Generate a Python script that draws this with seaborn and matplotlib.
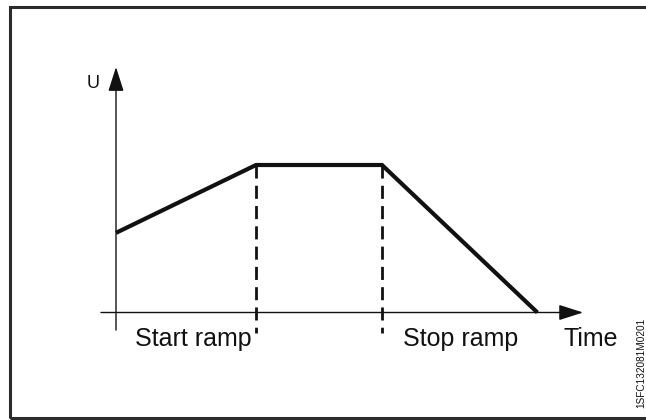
import matplotlib
matplotlib.use("Agg")
from matplotlib import pyplot as plt
from matplotlib.patches import Rectangle
import pandas as pd
import seaborn as sns

# ramp profile: voltage (in % of full) against time (arbitrary units)
time = [0.0, 10.0, 19.0, 30.1]
voltage = [54, 100, 100, 0]

# where the dashed markers sit (end of start ramp, start of stop ramp)
ramp_marks = [10.0, 19.0]

axis_labels = ["Time", "U"]
section_labels = ["Start ramp", "Stop ramp"]
drawing_id = "1SFC132081M0201"

sns.set_style("white")
plt.rcParams["font.family"] = ["Liberation Sans", "DejaVu Sans"]

W, H, DPI = 646, 420, 100
fig = plt.figure(figsize=(W / DPI, H / DPI), dpi=DPI)
ax = fig.add_axes([0, 0, 1, 1])
ax.set_axis_off()

# scale: 14 px per time unit, 1.475 px per % of U, origin at px (116, 312.5)
px_t, px_u = 14.0, 1.475
ox, oy = 116.0, 312.5
ax.set_xlim(-ox / px_t, (W - ox) / px_t)
ax.set_ylim(-(H - oy) / px_u, oy / px_u)

ink = "#111111"

# axes with arrow heads
arrow = dict(arrowstyle="-|>,head_length=1.5,head_width=0.48", color=ink,
             lw=1.0, shrinkA=0, shrinkB=0, mutation_scale=10)
ax.annotate("", xy=(33.36, 0), xytext=(-1.07, 0), arrowprops=arrow)
ax.annotate("", xy=(0, 166.4), xytext=(0, -11.9), arrowprops=arrow)

# dashed markers down from the plateau corners
for t in ramp_marks:
    ax.plot([t, t], [100, -14.2], color=ink, lw=2.0,
            linestyle=(0, (4.7, 2.6)), zorder=2)

df = pd.DataFrame({"time": time, "voltage": voltage})
sns.lineplot(data=df, x="time", y="voltage", ax=ax, color=ink, linewidth=3.0,
             estimator=None, sort=False, solid_joinstyle="miter",
             solid_capstyle="butt", zorder=3)
ax.set_xlim(-ox / px_t, (W - ox) / px_t)
ax.set_ylim(-(H - oy) / px_u, oy / px_u)
ax.set_axis_off()

# labels
ax.text(-1.62, 152.2, axis_labels[1], fontsize=13, ha="center", va="baseline", color=ink)
ax.text(1.36, -22.7, section_labels[0], fontsize=18, ha="left", va="baseline", color=ink)
ax.text(20.5, -22.7, section_labels[1], fontsize=18, ha="left", va="baseline", color=ink)
ax.text(31.93, -22.7, axis_labels[0], fontsize=18, ha="left", va="baseline", color=ink)

fig.text(641.5 / W, (H - 408) / H, drawing_id, rotation=90, fontsize=7.2,
         ha="center", va="bottom", color=ink)

# frame around the drawing (right edge runs off the picture)
frame = Rectangle((10 / W, (H - 417.5) / H), (670 - 10) / W, (417.5 - 7.3) / H,
                  transform=fig.transFigure, fill=False, ec="#2b2b2b", lw=2.2)
fig.add_artist(frame)

fig.savefig("out.png", dpi=DPI)
plt.close(fig)
